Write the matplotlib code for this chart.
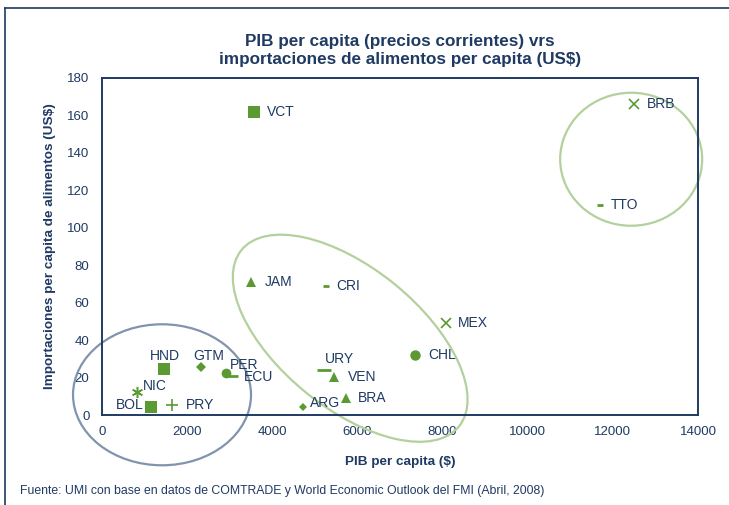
import matplotlib
matplotlib.use("Agg")
import matplotlib.pyplot as plt
from matplotlib.patches import Ellipse
from matplotlib.lines import Line2D
import matplotlib.transforms as mtransforms

plt.rcParams["font.family"] = ["Liberation Sans", "DejaVu Sans"]

# data
paises = ["VCT", "BRB", "TTO", "JAM", "CRI", "MEX", "CHL", "URY", "VEN",
          "BRA", "ARG", "HND", "GTM", "PER", "ECU", "NIC", "BOL", "PRY"]
pib = [3580, 12500, 11700, 3510, 5250, 8070, 7360, 5220, 5460,
       5740, 4710, 1460, 2330, 2920, 3060, 820, 1150, 1650]
importaciones = [162, 166, 112, 71, 69, 49, 32, 24, 20.3,
                 9.1, 4.3, 24.6, 25.6, 22.6, 21, 12.3, 4.3, 5.6]

xticks = list(range(0, 14001, 2000))
yticks = list(range(0, 181, 20))

VERDE = "#5b9a32"
AZUL = "#1f3a63"

# marker style and label placement (pixel offsets) per country
estilo = {
    "VCT": ("s", 8, 1, (13, 0, "left")),
    "BRB": ("x", 7, 1.2, (13, 0, "left")),
    "TTO": ("_", 5, 2, (11, 0, "left")),
    "JAM": ("^", 7, 1, (13, 0, "left")),
    "CRI": ("_", 5, 2, (11, 0, "left")),
    "MEX": ("x", 7, 1.2, (12, 0, "left")),
    "CHL": ("o", 7.5, 1, (13, 0, "left")),
    "URY": ("_", 10, 2, (1, 11, "left")),
    "VEN": ("^", 7, 1, (13, 0, "left")),
    "BRA": ("^", 7, 1, (12, 0, "left")),
    "ARG": ("D", 4.5, 1, (7, 4, "left")),
    "HND": ("s", 8, 1, (1, 13, "center")),
    "GTM": ("D", 5, 1, (7, 11, "center")),
    "PER": ("o", 7, 1, (4, 8, "left")),
    "ECU": ("_", 9, 2, (12, -1, "left")),
    "NIC": ((6, 2, 0), 8, 1.1, (6, 6, "left")),
    "BOL": ("s", 8, 1, (-7, 2, "right")),
    "PRY": ("+", 8, 1.2, (14, 0, "left")),
}

fig = plt.figure(figsize=(7.29, 5.05), dpi=100)
ax = fig.add_axes([102 / 729, 90 / 505, 596 / 729, 337 / 505])

for nombre, x, y in zip(paises, pib, importaciones):
    m, ms, mew, (dx, dy, ha) = estilo[nombre]
    if m in ("x", "+", "_") or isinstance(m, tuple):
        ax.plot(x, y, marker=m, ms=ms, mew=mew, color=VERDE, ls="none",
                clip_on=False, zorder=3)
    else:
        ax.plot(x, y, marker=m, ms=ms, mew=0, color=VERDE, ls="none",
                clip_on=False, zorder=3)
    ax.annotate(nombre, (x, y), xytext=(dx, dy), textcoords="offset pixels",
                ha=ha, va="center", fontsize=10, color=AZUL, zorder=4)

ax.set_xlim(0, 14000)
ax.set_ylim(0, 180)
ax.set_xticks(xticks)
ax.set_yticks(yticks)
ax.tick_params(length=0, labelsize=9.5, labelcolor=AZUL)
ax.tick_params(axis="x", pad=8)
ax.tick_params(axis="y", pad=9)
for s in ax.spines.values():
    s.set_color(AZUL)
    s.set_linewidth(1.4)

ax.set_xlabel("PIB per capita ($)", fontsize=9.7, fontweight="bold",
              color=AZUL, labelpad=13)
ax.set_ylabel("Importaciones per capita de alimentos (US$)", fontsize=9.7,
              fontweight="bold", color=AZUL, labelpad=8)
ax.set_title("PIB per capita (precios corrientes) vrs\n"
             "importaciones de alimentos per capita (US$)",
             fontsize=12.3, fontweight="bold", color=AZUL, pad=10,
             linespacing=1.3)


# ellipses drawn in pixel size around a data centre
def elipse(cx, cy, w, h, ang, color):
    tr = fig.dpi_scale_trans + mtransforms.ScaledTranslation(cx, cy, ax.transData)
    e = Ellipse((0, 0), w / 100, h / 100, angle=ang, transform=tr,
                fill=False, ec=color, lw=1.6, clip_on=False, zorder=2)
    ax.add_artist(e)


elipse(1410, 10.8, 178, 141, 0, "#8194ad")
elipse(5830, 41, 280, 140, -39, "#b4d09c")
elipse(12430, 136.6, 142, 133, 0, "#b4d09c")

fig.text(20 / 729, 1 - 491 / 505,
         "Fuente: UMI con base en datos de COMTRADE y World Economic Outlook del FMI (Abril, 2008)",
         fontsize=8.8, color=AZUL, va="center")

# outer frame (left and top)
fig.add_artist(Line2D([5 / 729, 5 / 729], [0, 1 - 8 / 505], transform=fig.transFigure,
                      color=AZUL, lw=1.2))
fig.add_artist(Line2D([5 / 729, 1], [1 - 8 / 505, 1 - 8 / 505], transform=fig.transFigure,
                      color=AZUL, lw=1.2))

fig.savefig("out.png", dpi=100)
